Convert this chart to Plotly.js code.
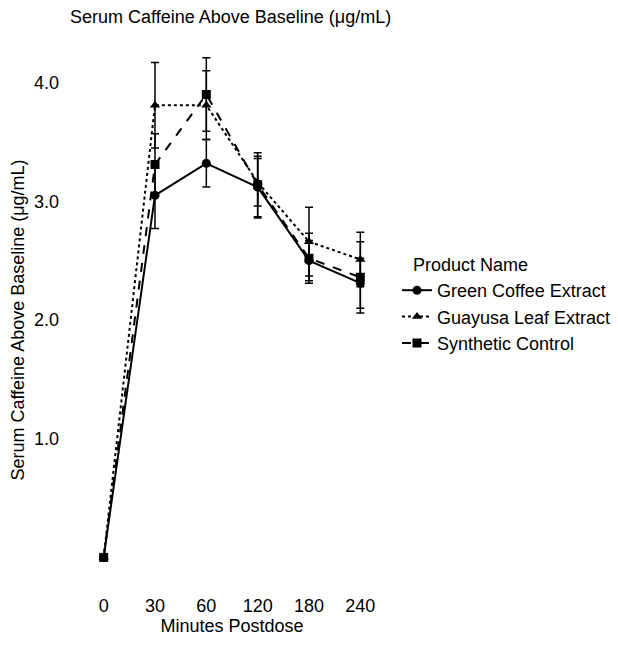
<!DOCTYPE html>
<html>
<head>
<meta charset="utf-8">
<script src="https://cdn.plot.ly/plotly-3.0.1.min.js"></script>
<style>html,body{margin:0;padding:0;background:#fff;}#chart{width:618px;height:645px;}</style>
</head>
<body>
<div id="chart"></div>
<script>
var minutes = ["0", "30", "60", "120", "180", "240"];
var greenCoffee = [0, 3.05, 3.32, 3.12, 2.50, 2.31];
var greenCoffeeErr = [0, 0.28, 0.20, 0.26, 0.17, 0.21];
var guayusa = [0, 3.81, 3.81, 3.16, 2.66, 2.51];
var guayusaErr = [0, 0.36, 0.29, 0.20, 0.29, 0.23];
var synthetic = [0, 3.31, 3.90, 3.14, 2.52, 2.36];
var syntheticErr = [0, 0.26, 0.31, 0.27, 0.21, 0.30];
var yTickVals = [1, 2, 3, 4];
var yTickText = ["1.0", "2.0", "3.0", "4.0"];

function mk(name, y, err, dash, symbol) {
  return {
    type: 'scatter', mode: 'lines+markers', name: name,
    x: minutes, y: y,
    line: {color: '#000', width: 2, dash: dash},
    marker: {color: '#000', symbol: symbol, size: 9},
    error_y: {type: 'data', array: err, visible: true, color: '#000', thickness: 1.5, width: 4}
  };
}
var data = [
  mk('Green Coffee Extract', greenCoffee, greenCoffeeErr, 'solid', 'circle'),
  mk('Guayusa Leaf Extract', guayusa, guayusaErr, 'dot', 'triangle-up'),
  mk('Synthetic Control', synthetic, syntheticErr, 'dash', 'square')
];
var font = {family: 'Liberation Sans, Arial, sans-serif', size: 18, color: '#000'};
var layout = {
  width: 618, height: 645,
  paper_bgcolor: '#fff', plot_bgcolor: '#fff',
  font: font,
  margin: {l: 78, r: 232, t: 47, b: 52, autoexpand: false},
  title: {text: 'Serum Caffeine Above Baseline (μg/mL)', xref: 'container', yref: 'container',
          x: 70/618, xanchor: 'left', y: 1 - 17/645, yanchor: 'middle', font: font},
  xaxis: {type: 'category', categoryorder: 'array', categoryarray: minutes,
          range: [-0.5, 5.5], showgrid: false, zeroline: false, showline: false, ticks: '',
          title: {text: 'Minutes Postdose', font: font, standoff: 0}},
  yaxis: {range: [-0.3, 4.3], showgrid: false, zeroline: false, showline: false, ticks: '',
          tickvals: yTickVals, ticktext: yTickText, ticklabelstandoff: 18,
          title: {text: 'Serum Caffeine Above Baseline (μg/mL)', font: font, standoff: 4}},
  legend: {x: (397-78)/308, xanchor: 'left', y: (593-272)/546, yanchor: 'top',
           font: font, tracegroupgap: 0, itemwidth: 30, bgcolor: 'rgba(0,0,0,0)'},
  annotations: [{text: 'Product Name', xref: 'paper', yref: 'paper', showarrow: false,
                 x: (411-78)/308, xanchor: 'left', y: (593-265)/546, yanchor: 'middle', font: font}],
  showlegend: true
};
Plotly.newPlot('chart', data, layout, {displayModeBar: false, staticPlot: true});
</script>
</body>
</html>
